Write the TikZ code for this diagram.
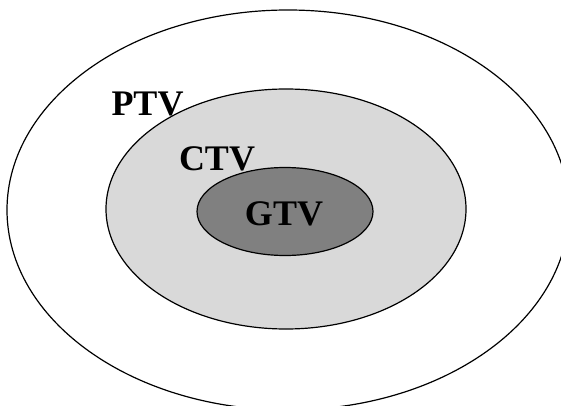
\documentclass[tikz,border=0pt]{standalone}
\usepackage{fontspec}
\setmainfont{Liberation Serif}
\begin{document}
\begin{tikzpicture}[x=1pt,y=1pt,
  ring/.style={draw=black,line width=1.2pt},
  lbl/.style={font=\fontsize{36}{40}\selectfont\bfseries,anchor=base,inner sep=0pt}]
\useasboundingbox (0,0) rectangle (561,405);
\clip (0,0) rectangle (561,405);
\fill[white] (0,0) rectangle (561,405);
\draw[ring] (288,195) ellipse [x radius=281, y radius=200];
\draw[ring,fill={rgb,255:red,217;green,217;blue,217}] (286,196) ellipse [x radius=180, y radius=120];
\draw[ring,fill={rgb,255:red,128;green,128;blue,128}] (285,193.5) ellipse [x radius=88, y radius=44];
\node[lbl] (ptv) at (147.5,290) {PTV};
\node[lbl] (ctv) at (217,235) {CTV};
\node[lbl] (gtv) at (284,180) {GTV};
\end{tikzpicture}
\end{document}
